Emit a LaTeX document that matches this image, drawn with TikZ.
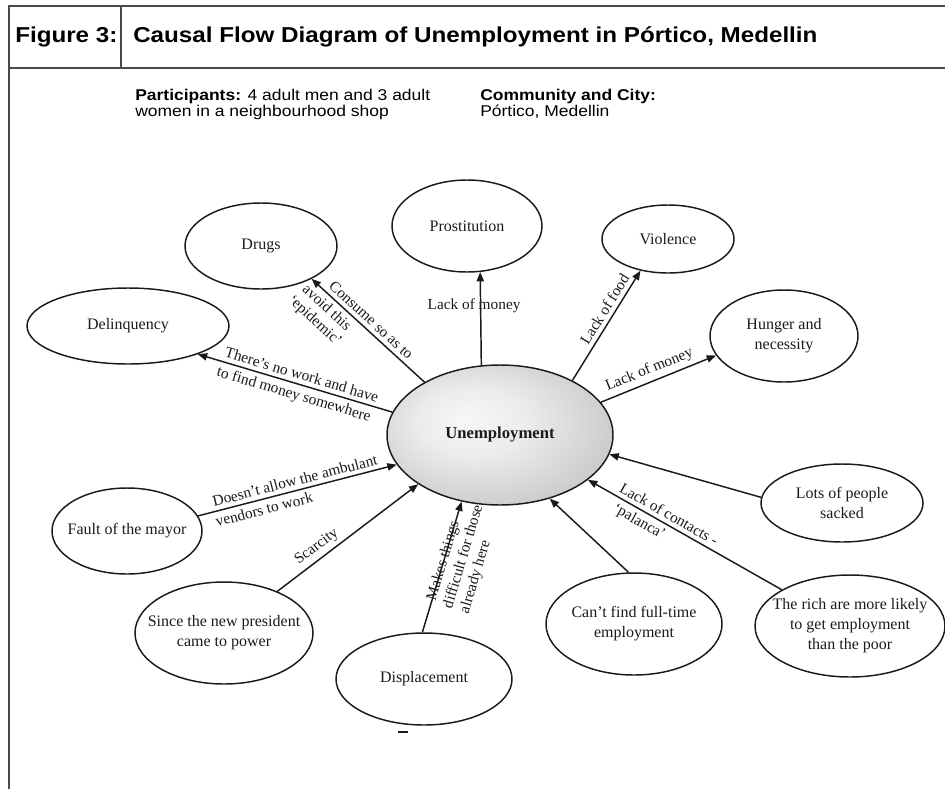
\documentclass[tikz,border=0pt]{standalone}
\usepackage{fontspec}
\setmainfont{Liberation Serif}
\newfontfamily\hdrfont[FakeStretch=1.12]{Liberation Sans}
\usetikzlibrary{arrows.meta,shapes.geometric}

\definecolor{framegray}{HTML}{4A4A4A}
\definecolor{inkc}{HTML}{1A1A1A}

% soft grey shading of the central ellipse, lighter towards the upper left
\pgfdeclareradialshading{unempshade}{\pgfpoint{-8bp}{6bp}}{%
  color(0bp)=(gray!6); color(12bp)=(gray!15); color(30bp)=(gray!42);
  color(42bp)=(gray!62); color(50bp)=(gray!70)}

\tikzset{
  frameline/.style={draw=framegray, line width=1.4pt},
  ell/.style={draw=inkc, line width=1.1pt, ellipse, inner sep=0pt},
  elltext/.style={font=\fontsize{12}{15}\selectfont, align=center, inner sep=0pt, text=inkc},
  link/.style={draw=inkc, line width=1.1pt},
  tip/.style={-{Triangle[length=7pt,width=5.5pt]}},
  tipback/.style={{Triangle[length=7pt,width=5.5pt]}-},
  lbl/.style={font=\fontsize{11.5}{13}\selectfont, inner xsep=2pt, inner ysep=3pt, text=inkc},
  hdrbig/.style={font=\hdrfont\fontsize{16.2}{19}\selectfont\bfseries, inner sep=0pt, anchor=base west},
  hdrsmall/.style={font=\hdrfont\fontsize{11.7}{12}\selectfont, inner sep=0pt, anchor=north west, align=left},
}

% ellipse with its text: name, centre, x radius, y radius, text
\newcommand\ellipsenode[5]{%
  \node[ell, minimum width={2*#3*0.75pt}, minimum height={2*#4*0.75pt}] (#1) at (#2) {};
  \node[elltext] (#1-text) at (#1.center) {#5};
}

\begin{document}
\begin{tikzpicture}[x=0.75pt, y=-0.75pt]
\useasboundingbox (0,0) rectangle (945,789);

% frame and header
\draw[frameline] (9,789) -- (9,6) -- (945,6);
\draw[frameline] (9,68) -- (945,68);
\draw[frameline] (121,6) -- (121,68);

\node[hdrbig] (figno) at (15,42) {Figure 3:};
\node[hdrbig] (title) at (133,42) {Causal Flow Diagram of Unemployment in Pórtico, Medellin};
\node[hdrsmall] (parts) at (135,89) {\textbf{Participants:} 4 adult men and 3 adult\\women in a neighbourhood shop};
\node[hdrsmall] (place) at (480,89) {\textbf{Community and City:}\\Pórtico, Medellin};

% central ellipse
\node[ell, shading=unempshade, minimum width={226*0.75pt}, minimum height={140*0.75pt}] (U) at (500,435) {};
\node[elltext, font=\fontsize{12.5}{15}\selectfont\bfseries] (U-text) at (U.center) {Unemployment};

% surrounding ellipses
\ellipsenode{pros}{467,226}{75}{46}{Prostitution}
\ellipsenode{viol}{668,239}{66}{34}{Violence}
\ellipsenode{hung}{784,336}{74}{46}{Hunger and\\necessity}
\ellipsenode{drug}{261,246}{76}{43}{Drugs}
\ellipsenode{delq}{128,326}{101}{38}{Delinquency}
\ellipsenode{mayor}{127,531}{75}{43}{Fault of the mayor}
\ellipsenode{pres}{224,633}{89}{51}{Since the new president\\came to power}
\ellipsenode{displ}{424,679}{88}{46}{Displacement}
\ellipsenode{cant}{634,624}{88}{51}{Can't find full-time\\employment}
\ellipsenode{sack}{842,503}{81}{39}{Lots of people\\sacked}
\ellipsenode{rich}{850,626}{95}{51}{The rich are more likely\\to get employment\\than the poor}

% consequences
\draw[link, tip] (U.105.9) -- (pros.-74.2)
  node[lbl, pos=.64, xshift=-4.9pt] (l-pros) {Lack of money};
\draw[link, tip] (U.37.4) -- (viol.229.7)
  node[lbl, pos=.6, sloped, above] (l-viol) {Lack of food};
\draw[link, tip] (U.18.4) -- (hung.196.5)
  node[lbl, pos=.46, sloped, above] (l-hung) {Lack of money};
\draw[link, tipback] (drug.-33.7) -- (U.145.5)
  node[lbl, pos=.47, sloped, above] (l-drug-a) {Consume so as to}
  node[lbl, pos=.2, sloped, below, align=center] (l-drug-b) {avoid this\\`epidemic'};
\draw[link, tipback] (delq.-22.5) -- (U.168.5)
  node[lbl, pos=.52, sloped, above] (l-delq-a) {There's no work and have}
  node[lbl, pos=.51, sloped, below] (l-delq-b) {to find money somewhere};

% causes
\draw[link, tip] (mayor.12) -- (U.196.2)
  node[lbl, pos=.5, sloped, above] (l-mayor-a) {Doesn't allow the ambulant}
  node[lbl, pos=.32, sloped, below] (l-mayor-b) {vendors to work};
\draw[link, tip] (pres.38.5) -- (U.211.1)
  node[lbl, pos=.33, sloped, above] (l-pres) {Scarcity};
\draw[link, tip] (displ.92.4) -- (U.240.8)
  node[lbl, pos=.22, sloped, anchor=west, inner ysep=0pt] (l-displ-a) {Makes things}
  node[lbl, pos=.2, sloped, anchor=north west, inner ysep=7.5pt, align=left] (l-displ-b) {difficult for those\\already here};
\draw[link, tip] (cant.96.7) -- (U.-52.2);
\draw[link, tipback] (U.-27.6) -- (rich.152.8)
  node[lbl, pos=.13, sloped, anchor=south west] (l-rich-a) {Lack of contacts -}
  node[lbl, pos=.15, sloped, anchor=north west] (l-rich-b) {`palanca'};
\draw[link, tipback] (U.-10.8) -- (sack.176.4);

% small stray mark below the displacement ellipse
\draw[link, line width=1pt] (398,732) -- (408,732);
\end{tikzpicture}
\end{document}
